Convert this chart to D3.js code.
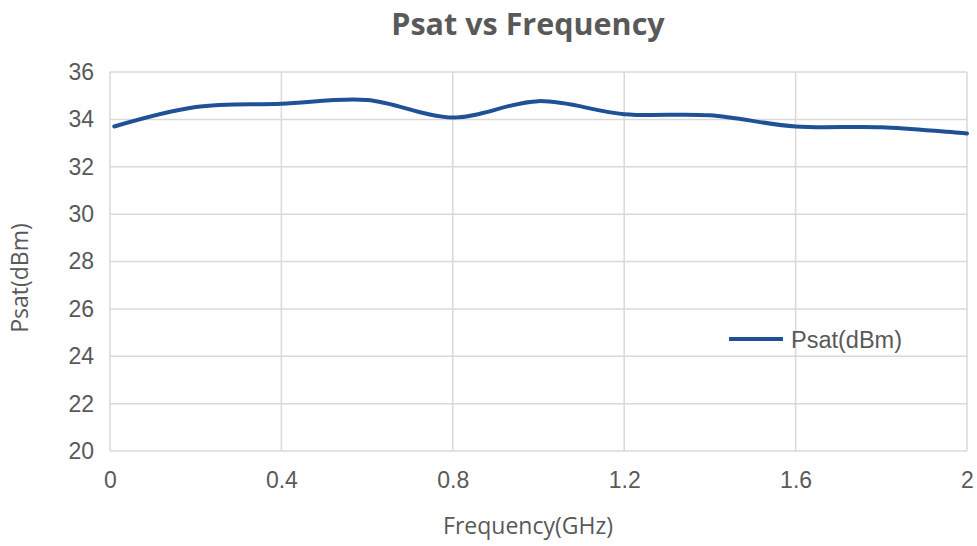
<!DOCTYPE html>
<html>
<head>
<meta charset="utf-8">
<script src="https://cdn.jsdelivr.net/npm/d3@7"></script>
<style>
  body { margin: 0; background: #fff; }
  svg { display: block; }
</style>
</head>
<body>
<svg id="chart" width="977" height="546"></svg>
<script>
// data
var freq = [0.01, 0.2, 0.4, 0.6, 0.8, 1.0, 1.2, 1.4, 1.6, 1.8, 2.0];
var psat = [33.7, 34.52, 34.66, 34.82, 34.08, 34.77, 34.22, 34.17, 33.7, 33.67, 33.4];
var xTicks = [0, 0.4, 0.8, 1.2, 1.6, 2];
var yTicks = [20, 22, 24, 26, 28, 30, 32, 34, 36];

var x = d3.scaleLinear().domain([0, 2]).range([110, 967]);
var y = d3.scaleLinear().domain([20, 36]).range([451, 72]);

var svg = d3.select('#chart');
var gridColor = '#d9d9d9';
var textColor = '#595959';
var lineColor = '#1f5196';

// grid
svg.append('g')
  .selectAll('line')
  .data(yTicks)
  .join('line')
  .attr('x1', x(0)).attr('x2', x(2))
  .attr('y1', d => y(d)).attr('y2', d => y(d))
  .attr('stroke', gridColor).attr('stroke-width', 1.5);

svg.append('g')
  .selectAll('line')
  .data(xTicks)
  .join('line')
  .attr('x1', d => x(d)).attr('x2', d => x(d))
  .attr('y1', y(20)).attr('y2', y(36))
  .attr('stroke', gridColor).attr('stroke-width', 1.5);

// tick labels
var xAxis = svg.append('g')
  .attr('transform', 'translate(0,' + y(20) + ')')
  .call(d3.axisBottom(x).tickValues(xTicks).tickSize(0).tickPadding(21)
    .tickFormat(d => d));
xAxis.select('.domain').remove();
xAxis.selectAll('text')
  .attr('fill', textColor)
  .style('font-family', '"Liberation Sans", Arial, sans-serif')
  .style('font-size', '23px');

var yAxis = svg.append('g')
  .attr('transform', 'translate(' + x(0) + ',0)')
  .call(d3.axisLeft(y).tickValues(yTicks).tickSize(0).tickPadding(16));
yAxis.select('.domain').remove();
yAxis.selectAll('text')
  .attr('fill', textColor)
  .style('font-family', '"Liberation Sans", Arial, sans-serif')
  .style('font-size', '23px');

// line
var line = d3.line()
  .x((d, i) => x(freq[i]))
  .y(d => y(d))
  .curve(d3.curveCatmullRom.alpha(0.5));

svg.append('path')
  .datum(psat)
  .attr('d', line)
  .attr('fill', 'none')
  .attr('stroke', lineColor)
  .attr('stroke-width', 4)
  .attr('stroke-linecap', 'round');

// title
svg.append('text')
  .attr('x', 528).attr('y', 35)
  .attr('text-anchor', 'middle')
  .attr('fill', textColor)
  .style('font-family', '"Open Sans", sans-serif')
  .style('font-weight', 'bold')
  .style('font-size', '30.5px')
  .text('Psat vs Frequency');

// axis titles
svg.append('text')
  .attr('x', 528).attr('y', 534)
  .attr('text-anchor', 'middle')
  .attr('fill', textColor)
  .style('font-family', '"Open Sans", sans-serif')
  .style('font-size', '23px')
  .text('Frequency(GHz)');

svg.append('text')
  .attr('transform', 'translate(28,278) rotate(-90)')
  .attr('text-anchor', 'middle')
  .attr('fill', textColor)
  .style('font-family', '"Open Sans", sans-serif')
  .style('font-size', '23px')
  .text('Psat(dBm)');

// legend
svg.append('line')
  .attr('x1', 729).attr('x2', 783)
  .attr('y1', 339).attr('y2', 339)
  .attr('stroke', lineColor).attr('stroke-width', 4);
svg.append('text')
  .attr('x', 791).attr('y', 348)
  .attr('fill', textColor)
  .style('font-family', '"Liberation Sans", Arial, sans-serif')
  .style('font-size', '23.5px')
  .text('Psat(dBm)');
</script>
</body>
</html>
